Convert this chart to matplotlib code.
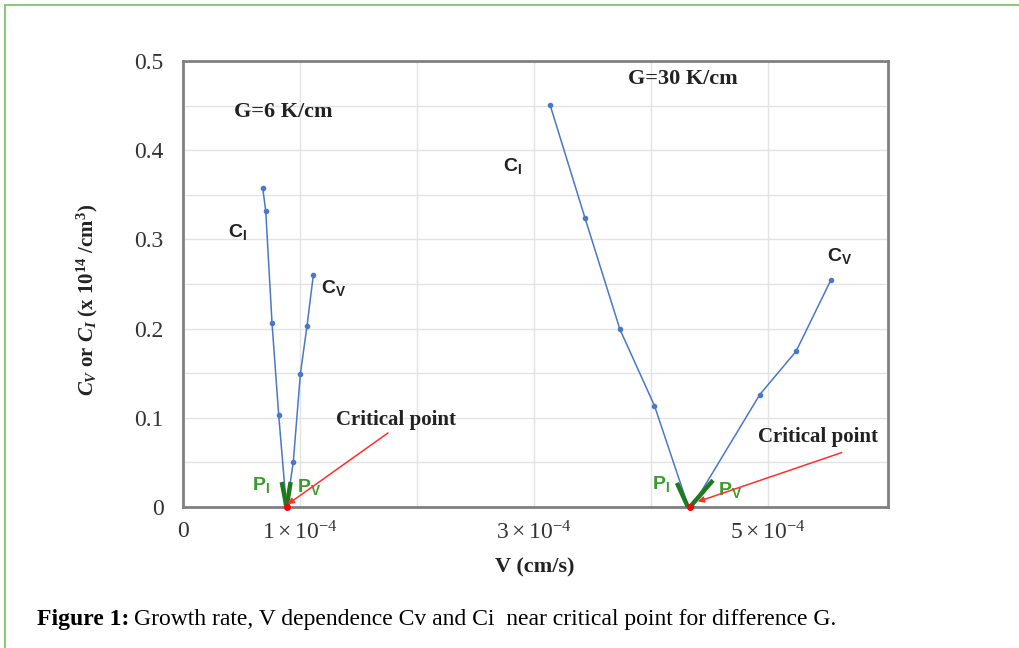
import matplotlib
matplotlib.use("Agg")
import matplotlib.pyplot as plt
from matplotlib.lines import Line2D

plt.rcParams['mathtext.fontset'] = 'custom'
plt.rcParams['mathtext.rm'] = 'Liberation Serif'
plt.rcParams['mathtext.it'] = 'Liberation Serif:italic:bold'
plt.rcParams['mathtext.bf'] = 'Liberation Serif:bold'
plt.rcParams['mathtext.sf'] = 'Liberation Sans:bold'

E = 1e-4
# G = 6 K/cm
g6_ci_v = [0.681, 0.707, 0.761, 0.818, 0.882]
g6_ci_c = [0.358, 0.332, 0.206, 0.103, 0.003]
g6_cv_v = [0.890, 0.943, 1.003, 1.060, 1.114]
g6_cv_c = [0.003, 0.051, 0.149, 0.203, 0.260]
# G = 30 K/cm
g30_ci_v = [3.137, 3.436, 3.735, 4.030, 4.320]
g30_ci_c = [0.451, 0.324, 0.199, 0.1135, 0.0]
g30_cv_v = [4.350, 4.930, 5.240, 5.536]
g30_cv_c = [0.0, 0.126, 0.1745, 0.254]
# critical points
crit_v = [0.889, 4.330]
crit_c = [0.0, 0.0]
# slope markers P_I, P_V
g6_pi_v = [0.844, 0.882]; g6_pi_c = [0.028, 0.002]
g6_pv_v = [0.920, 0.888]; g6_pv_c = [0.028, 0.002]
g30_pi_v = [4.222, 4.316]; g30_pi_c = [0.027, 0.0]
g30_pv_v = [4.333, 4.530]; g30_pv_c = [0.0, 0.030]

xticks = [0, 1, 3, 5]
xticklabels = ['0', r'$1\times10^{-4}$', r'$3\times10^{-4}$', r'$5\times10^{-4}$']
yticks = [0, 0.1, 0.2, 0.3, 0.4, 0.5]
yticklabels = ['0', '0.1', '0.2', '0.3', '0.4', '0.5']

def sc(v):
    return [x * E for x in v]

fig = plt.figure(figsize=(10.19, 6.48), dpi=100)
fig.patch.set_facecolor('white')
# green border (top and left)
fig.add_artist(Line2D([5/1019, 5/1019], [0, 1 - 5/648], transform=fig.transFigure, color='#8cc97a', lw=1.5))
fig.add_artist(Line2D([5/1019, 1], [1 - 5/648, 1 - 5/648], transform=fig.transFigure, color='#8cc97a', lw=1.5))

ax = fig.add_axes([183/1019, 1 - 507/648, 705/1019, 446/648])
ax.set_xlim(0, 6.026 * E)
ax.set_ylim(0, 0.5)

# grid
for gx in [1, 2, 3, 4, 5]:
    ax.axvline(gx * E, color='#e3e3e3', lw=1, zorder=0)
for gy in [0.05 * i for i in range(1, 10)]:
    ax.axhline(gy, color='#e3e3e3', lw=1, zorder=0)

blue = '#4a78c8'
kw = dict(color=blue, lw=1.1, marker='o', ms=3, zorder=3)
ax.plot(sc(g6_ci_v), g6_ci_c, **kw)
ax.plot(sc(g6_cv_v), g6_cv_c, **kw)
ax.plot(sc(g30_ci_v), g30_ci_c, **kw)
ax.plot(sc(g30_cv_v), g30_cv_c, **kw)

gk = dict(color='#1f7a1f', lw=3.2, solid_capstyle='butt', zorder=4)
ax.plot(sc(g6_pi_v), g6_pi_c, **gk)
ax.plot(sc(g6_pv_v), g6_pv_c, **gk)
ax.plot(sc(g30_pi_v), g30_pi_c, **gk)
ax.plot(sc(g30_pv_v), g30_pv_c, **gk)

ax.plot(sc(crit_v), crit_c, 'o', color='red', ms=4, zorder=5, clip_on=False)

# arrows to critical points
arr = dict(arrowstyle='-|>', color='#ff3030', lw=1.1, mutation_scale=9, shrinkA=0, shrinkB=0)
ax.annotate('', xy=(0.895 * E, 0.003), xytext=(1.752 * E, 0.083), arrowprops=arr, zorder=6)
ax.annotate('', xy=(4.40 * E, 0.006), xytext=(5.63 * E, 0.061), arrowprops=arr, zorder=6)

serif = 'Liberation Serif'
ax.text(0.855 * E, 0.4427, 'G=6 K/cm', family=serif, weight='bold', fontsize=16, ha='center', va='center', color='#222222')
ax.text(4.27 * E, 0.480, 'G=30 K/cm', family=serif, weight='bold', fontsize=16, ha='center', va='center', color='#222222')
ax.text(1.82 * E, 0.098, 'Critical point', family=serif, weight='bold', fontsize=15, ha='center', va='center', color='#222222')
ax.text(5.43 * E, 0.079, 'Critical point', family=serif, weight='bold', fontsize=15, ha='center', va='center', color='#222222')

ax.text(0.47 * E, 0.308, r'$\mathsf{C_I}$', fontsize=14, color='#222222', ha='center', va='center')
ax.text(1.29 * E, 0.246, r'$\mathsf{C_V}$', fontsize=14, color='#222222', ha='center', va='center')
ax.text(2.82 * E, 0.382, r'$\mathsf{C_I}$', fontsize=14, color='#222222', ha='center', va='center')
ax.text(5.61 * E, 0.281, r'$\mathsf{C_V}$', fontsize=14, color='#222222', ha='center', va='center')

pg = '#3a9a2e'
ax.text(0.667 * E, 0.025, r'$\mathsf{P_I}$', fontsize=14, color=pg, ha='center', va='center')
ax.text(1.077 * E, 0.022, r'$\mathsf{P_V}$', fontsize=14, color=pg, ha='center', va='center')
ax.text(4.085 * E, 0.026, r'$\mathsf{P_I}$', fontsize=14, color=pg, ha='center', va='center')
ax.text(4.675 * E, 0.019, r'$\mathsf{P_V}$', fontsize=14, color=pg, ha='center', va='center')

ax.set_xticks([t * E for t in xticks])
ax.set_xticklabels(xticklabels)
ax.set_yticks(yticks)
ax.set_yticklabels(yticklabels)
ax.tick_params(length=0, labelsize=17, colors='#333333')
ax.tick_params(axis='x', pad=10)
ax.tick_params(axis='y', pad=14)
for lab in ax.get_xticklabels() + ax.get_yticklabels():
    lab.set_family(serif)

for s in ax.spines.values():
    s.set_color('#808080')
    s.set_linewidth(2)

fig.text(535/1019, 1 - 567/648, 'V (cm/s)', family=serif, weight='bold', fontsize=16, ha='center', va='center', color='#222222')
fig.text(87/1019, 1 - 300/648, r'$\mathit{C_V}$ or $\mathit{C_I}$ (x 10$\mathbf{^{14}}$ /cm$\mathbf{^{3}}$)',
         family=serif, weight='bold', fontsize=15, rotation=90, ha='center', va='center', color='#222222')

# caption
fig.canvas.draw()
t1 = fig.text(37/1019, 1 - 620/648, 'Figure 1:', family=serif, weight='bold', fontsize=17, ha='left', va='center')
r = fig.canvas.get_renderer()
bb = t1.get_window_extent(r)
fig.text((bb.x1 + 5) / 1019, 1 - 620/648, 'Growth rate, V dependence Cv and Ci  near critical point for difference G.',
         family=serif, fontsize=17, ha='left', va='center')

fig.savefig('out.png', dpi=100)
